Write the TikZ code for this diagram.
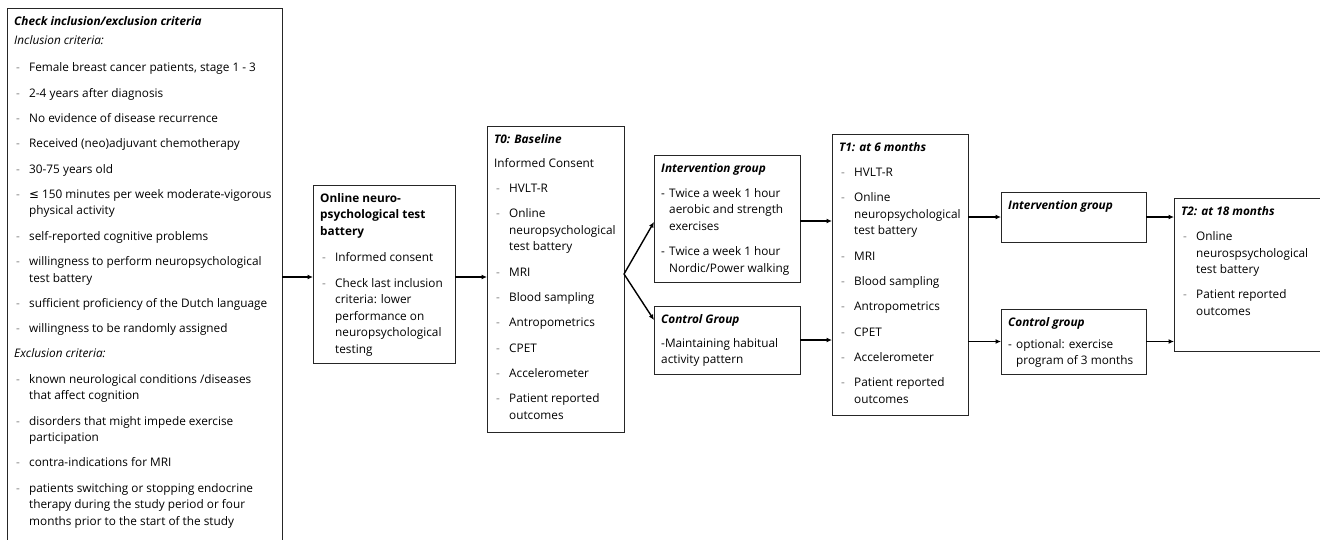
\documentclass[tikz,border=0pt]{standalone}
\usepackage{fontspec}
\setmainfont{Open Sans}
\newfontfamily\symf{DejaVu Sans}
\usetikzlibrary{arrows.meta}
\definecolor{dashc}{gray}{0.5}
\newcommand\bxhd[1]{\rule{0pt}{12pt}\textbf{\textit{#1}}}
\newcommand\bxhdu[1]{\rule{0pt}{12pt}\textbf{#1}}
\newcommand\bxit{\hspace*{2pt}\makebox[13pt][l]{\textcolor{dashc}{-}}}
\newcommand\bxcn{\hspace*{15pt}}
\newcommand\bxitb{\makebox[8pt][l]{-}}
\newcommand\bxcnb{\hspace*{8pt}}
\begin{document}
\begin{tikzpicture}[x=1pt,y=-1pt,
  box/.style={draw=black!85, line width=0.9pt, inner sep=0pt, outer sep=0pt, anchor=north west},
  txt/.style={anchor=north west, inner sep=0pt, align=left, xshift=7pt, yshift=-5pt,
    text=black, font=\fontsize{11.8}{16.5}\selectfont},
  arr/.style={-{Latex[length=5.5pt,width=5pt]}, line width=1.4pt}]
\useasboundingbox (0,0) rectangle (1320,539);
\fill[white] (0,0) rectangle (1320,539);

\node[box, minimum width=275pt, minimum height=540pt, label={[txt]north west:{%
\bxhd{Check inclusion/exclusion criteria}\\[3.2pt]
\textit{Inclusion criteria:}\\[10.5pt]
\bxit Female breast cancer patients, stage 1 - 3\\[8.8pt]
\bxit 2-4 years after diagnosis\\[8.8pt]
\bxit No evidence of disease recurrence\\[8.8pt]
\bxit Received (neo)adjuvant chemotherapy\\[8.8pt]
\bxit 30-75 years old\\[8.8pt]
\bxit {\symf ≤} 150 minutes per week moderate-vigorous\\
\bxcn physical activity\\[8.8pt]
\bxit self-reported cognitive problems\\[8.8pt]
\bxit willingness to perform neuropsychological\\
\bxcn test battery\\[8.8pt]
\bxit sufficient proficiency of the Dutch language\\[8.8pt]
\bxit willingness to be randomly assigned\\[8.8pt]
\textit{Exclusion criteria:}\\[8.8pt]
\bxit known neurological conditions /diseases\\
\bxcn that affect cognition\\[8.8pt]
\bxit disorders that might impede exercise\\
\bxcn participation\\[8.8pt]
\bxit contra-indications for MRI\\[8.8pt]
\bxit patients switching or stopping endocrine\\
\bxcn therapy during the study period or four\\
\bxcn months prior to the start of the study}}] (crit) at (7,8) {};

\node[box, minimum width=142pt, minimum height=178pt, label={[txt]north west:{%
\bxhdu{Online neuro-}\\
\textbf{psychological test}\\
\textbf{battery}\\[10pt]
\bxit Informed consent\\[8.8pt]
\bxit Check last inclusion\\
\bxcn criteria: lower\\
\bxcn performance on\\
\bxcn neuropsychological\\
\bxcn testing}}] (onl) at (313,185) {};

\node[box, minimum width=137pt, minimum height=306pt, label={[txt]north west:{%
\bxhd{T0: Baseline}\\[7.5pt]
Informed Consent\\[8.8pt]
\bxit HVLT-R\\[8.8pt]
\bxit Online\\
\bxcn neuropsychological\\
\bxcn test battery\\[8.8pt]
\bxit MRI\\[8.8pt]
\bxit Blood sampling\\[8.8pt]
\bxit Antropometrics\\[8.8pt]
\bxit CPET\\[8.8pt]
\bxit Accelerometer\\[8.8pt]
\bxit Patient reported\\
\bxcn outcomes}}] (t0) at (487,126) {};

\node[box, minimum width=146pt, minimum height=127pt, label={[txt]north west:{%
\bxhd{Intervention group}\\[8.5pt]
\bxitb Twice a week 1 hour\\
\bxcnb aerobic and strength\\
\bxcnb exercises\\[8.8pt]
\bxitb Twice a week 1 hour\\
\bxcnb Nordic/Power walking}}] (int) at (654,155) {};

\node[box, minimum width=146pt, minimum height=68pt, label={[txt]north west:{%
\bxhd{Control Group}\\[7.5pt]
-Maintaining habitual\\
activity pattern}}] (ctl) at (654,306) {};

\node[box, minimum width=136pt, minimum height=281pt, label={[txt]north west:{%
\bxhd{T1: at 6 months}\\[8.8pt]
\bxit HVLT-R\\[8.8pt]
\bxit Online\\
\bxcn neuropsychological\\
\bxcn test battery\\[8.8pt]
\bxit MRI\\[8.8pt]
\bxit Blood sampling\\[8.8pt]
\bxit Antropometrics\\[8.8pt]
\bxit CPET\\[8.8pt]
\bxit Accelerometer\\[8.8pt]
\bxit Patient reported\\
\bxcn outcomes}}] (t1) at (832,134) {};

\node[box, minimum width=145pt, minimum height=50pt, label={[txt]north west:{%
\bxhd{Intervention group}}}] (int2) at (1001,192) {};

\node[box, minimum width=145pt, minimum height=65pt, label={[txt]north west:{%
\bxhd{Control group}\\[5.5pt]
\bxitb optional: exercise\\
\bxcnb program of 3 months}}] (ctl2) at (1001,309) {};

\node[box, minimum width=160pt, minimum height=153pt, label={[txt]north west:{%
\bxhd{T2: at 18 months}\\[8.8pt]
\bxit Online\\
\bxcn neurospsychological\\
\bxcn test battery\\[8.8pt]
\bxit Patient reported\\
\bxcn outcomes}}] (t2) at (1174,198) {};

\coordinate (yA) at (0,277);
\coordinate (yB) at (0,274);
\coordinate (yI1) at (0,222);
\coordinate (yC1) at (0,320);
\coordinate (yI2) at (0,221);

\draw[arr] (crit.east |- yA) -- (onl.west |- yA);
\draw[arr] (onl.east |- yA) -- (t0.west |- yA);
\draw[arr] (t0.east |- yB) -- (int.west |- yI1);
\draw[arr] (t0.east |- yB) -- (ctl.west |- yC1);
\draw[arr] (int.east |- yI2) -- (t1.west |- yI2);
\draw[arr] (ctl.east) -- (ctl.east -| t1.west);
\draw[arr] (t1.east |- int2.west) -- (int2.west);
\draw[arr] (t1.east |- ctl2.west) -- (ctl2.west);
\draw[arr] (int2.east) -- (int2.east -| t2.west);
\draw[arr] (ctl2.east) -- (ctl2.east -| t2.west);
\end{tikzpicture}
\end{document}
